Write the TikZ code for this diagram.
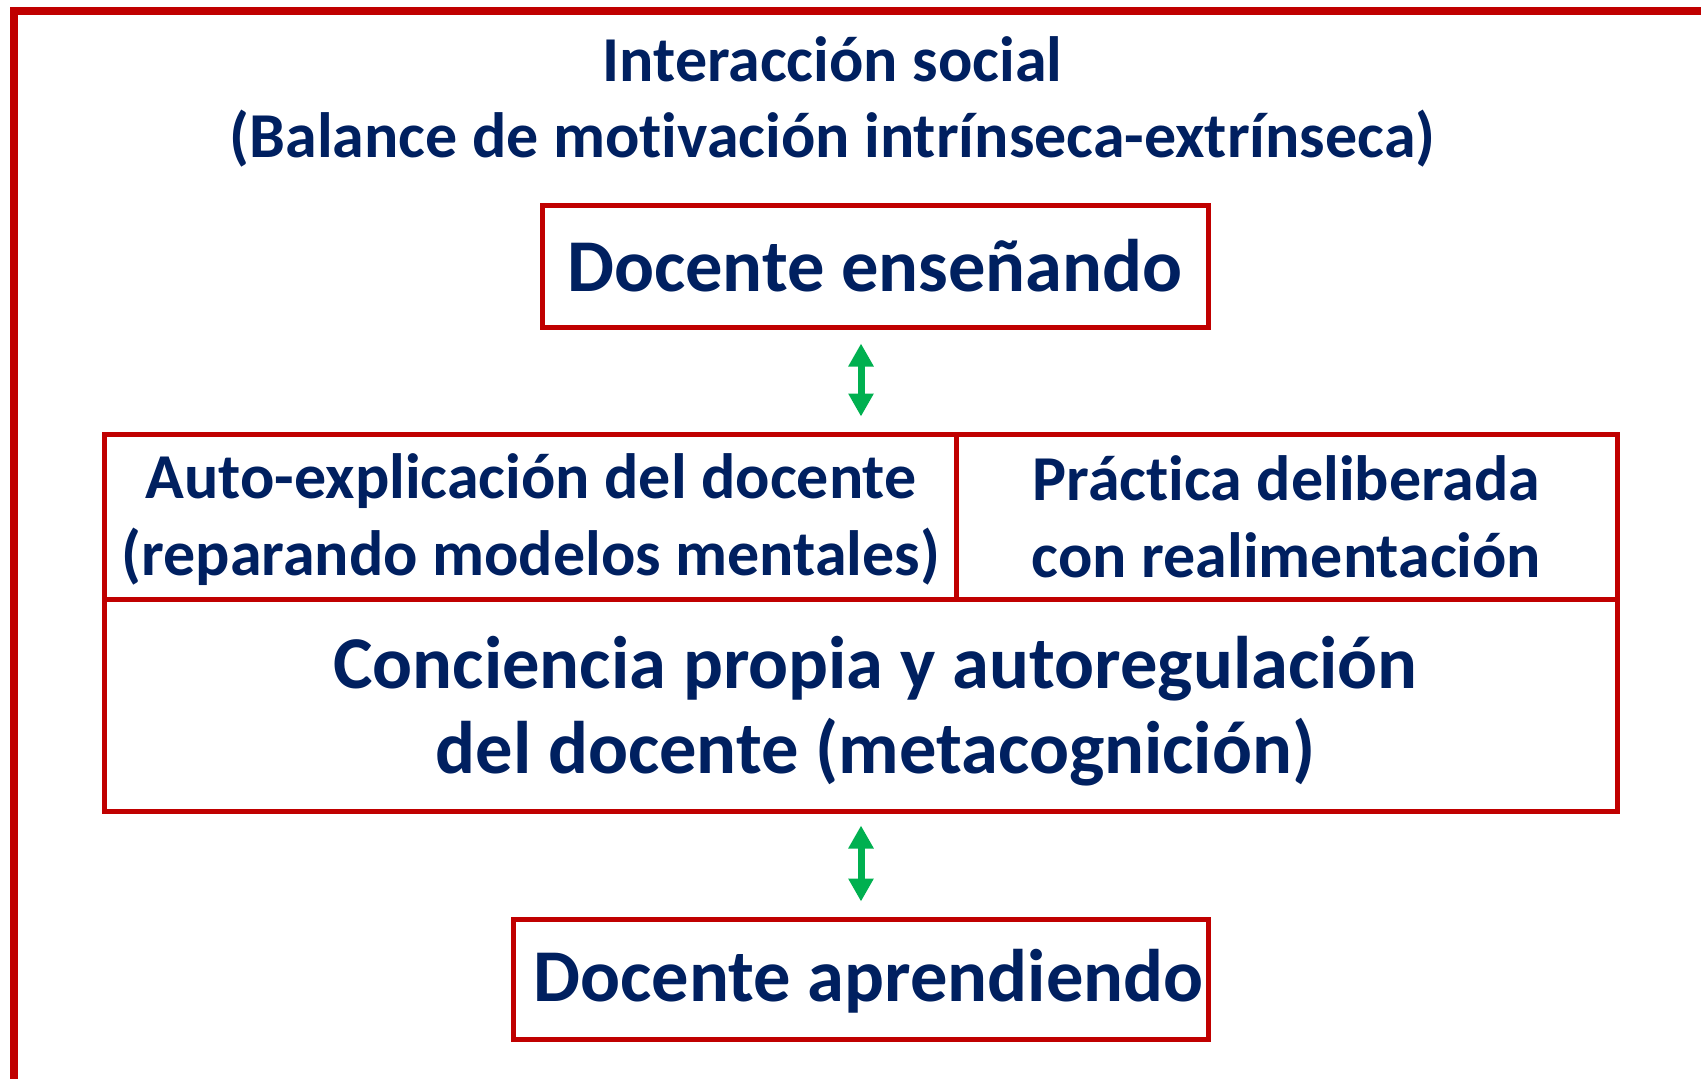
\documentclass[tikz,border=0pt]{standalone}
\usepackage{fontspec}
\setmainfont{Carlito}[Ligatures=NoCommon]
\usetikzlibrary{arrows.meta}
\definecolor{navy}{HTML}{002060}
\definecolor{dred}{HTML}{C00000}
\definecolor{dgreen}{HTML}{00B050}
\tikzset{
  box/.style={draw=dred, line width=5pt, rectangle, inner sep=0pt},
  txt/.style={inner sep=0pt, align=center, text=navy},
  big/.style={font=\bfseries\fontsize{74.5}{84.5}\selectfont},
  mid/.style={font=\bfseries\fontsize{64}{77}\selectfont},
  garrow/.style={draw=dgreen, line width=7pt, {Triangle[width=24pt,length=23pt]}-{Triangle[width=24pt,length=23pt]}},
}
\begin{document}
\begin{tikzpicture}[x=1pt,y=-1pt]
\useasboundingbox (0,0) rectangle (1701,1079);
\fill[white] (0,0) rectangle (1701,1079);
% outer frame
\draw[dred, line width=8pt, line join=miter] (1705,10.5) -- (14,10.5) -- (14,1085);
% title
\node[txt, font=\bfseries\fontsize{64}{76}\selectfont] (title) at (832.5,101.5)
  {Interacción social\\(Balance de motivación intrínseca-extrínseca)};
% boxes
\node[box, minimum width=666, minimum height=122] (teach) at (875,266) {};
\node[box, minimum width=852, minimum height=165] (auto) at (530,516.5) {};
\node[box, minimum width=661, minimum height=165] (prac) at (1286.5,516.5) {};
\node[box, minimum width=1513, minimum height=212] (conc) at (860.5,705) {};
\node[box, minimum width=695, minimum height=120] (learn) at (860.5,979) {};
% texts
\node[txt, big] (teachT) at (875,266) {Docente enseñando};
\node[txt, mid] (autoT) at (531,520) {Auto-explicación del docente\\(reparando modelos mentales)};
\node[txt, mid] (pracT) at (1286.5,516.5) {Práctica deliberada\\con realimentación};
\node[txt, big] (concT) at (875.5,711) {Conciencia propia y autoregulación\\del docente (metacognición)};
\node[txt, big] (learnT) at (868.5,981) {Docente aprendiendo};
% arrows
\coordinate (ax) at (861,0);
\draw[garrow, shorten <=14pt, shorten >=15pt] (teach.south -| ax) -- (auto.north -| ax);
\draw[garrow, shorten <=12pt, shorten >=15pt] (conc.south -| ax) -- (learn.north -| ax);
\end{tikzpicture}
\end{document}
